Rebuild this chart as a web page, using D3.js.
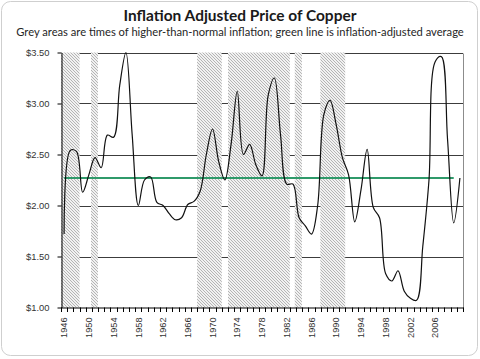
<!DOCTYPE html>
<html><head><meta charset="utf-8">
<script src="https://cdn.jsdelivr.net/npm/d3@7"></script>
<style>html,body{margin:0;padding:0;background:#fff;}svg{display:block;}</style>
</head><body>
<script>
const years = d3.range(1946, 2011);
const prices = [1.72,2.54,2.53,2.13,2.30,2.47,2.37,2.69,2.67,3.18,
  3.50,2.70,2.00,2.25,2.28,2.03,2.00,1.92,1.86,1.88,
  2.01,2.04,2.14,2.50,2.75,2.43,2.25,2.60,3.12,2.50,
  2.60,2.40,2.29,3.08,3.25,2.69,2.21,2.21,1.88,1.80,
  1.72,2.00,2.89,3.03,2.79,2.47,2.30,1.84,2.15,2.55,
  1.98,1.88,1.33,1.26,1.36,1.16,1.09,1.07,1.60,2.25,
  3.41,3.46,2.65,1.83,2.27];
const avgYears = [1946, 2009];
const avgValue = 2.27;
const inflationStart = [1946, 1950.85, 1968, 1973, 1983.8, 1987.93];
const inflationEnd   = [1949, 1951.97, 1972, 1983, 1984.95, 1991.95];
const yTicks = [1.0, 1.5, 2.0, 2.5, 3.0, 3.5];
const xLabelYears = d3.range(1946, 2010, 4);

const W = 480, H = 359;
const L = 61, R = 463, T = 52.5, B = 307.5;
const svg = d3.select("body").append("svg").attr("width", W).attr("height", H);

svg.append("rect").attr("x",1.5).attr("y",1.5).attr("width",476).attr("height",354)
  .attr("rx",9).attr("fill","#fff").attr("stroke","#cfcfcf").attr("stroke-width",1);

const defs = svg.append("defs");
const pat = defs.append("pattern").attr("id","hatch").attr("patternUnits","userSpaceOnUse")
  .attr("width",3).attr("height",3);
pat.append("rect").attr("width",3).attr("height",3).attr("fill","#f1f1f1");
pat.append("path").attr("d","M0,0 L3,3 M-1,2 L1,4 M2,-1 L4,1")
  .attr("stroke","#b4b4b4").attr("stroke-width",1);

const x = d3.scaleLinear().domain([1946, 2011]).range([L, R]);
const y = d3.scaleLinear().domain([1, 3.5]).range([B, T]);
const cx = yr => x(yr + 0.5);

function fitText(sel, target) {
  const w = sel.node().getComputedTextLength();
  const fs = parseFloat(sel.attr("font-size"));
  sel.attr("font-size", fs * target / w);
}
const title = svg.append("text").attr("x",240).attr("y",21).attr("text-anchor","middle")
  .attr("font-family","Lato, 'Open Sans', sans-serif").attr("font-weight","bold")
  .attr("font-size",15).attr("fill","#1a1a1a").text("Inflation Adjusted Price of Copper");
fitText(title, 233);
const sub = svg.append("text").attr("x",240).attr("y",35.5).attr("text-anchor","middle")
  .attr("font-family","Lato, 'Open Sans', sans-serif")
  .attr("font-size",12).attr("fill","#262626")
  .text("Grey areas are times of higher-than-normal inflation; green line is inflation-adjusted average");
fitText(sub, 448);

svg.append("g").selectAll("line").data(yTicks.filter(d => d > 1)).join("line")
  .attr("x1",L).attr("x2",R)
  .attr("y1",d => Math.round(y(d))+0.5).attr("y2",d => Math.round(y(d))+0.5)
  .attr("stroke","#3c3c3c").attr("stroke-width",1);

svg.append("line").attr("x1",R+0.5).attr("x2",R+0.5).attr("y1",Math.round(T)+0.5).attr("y2",B)
  .attr("stroke","#8c8c8c");

svg.append("g").selectAll("rect").data(inflationStart).join("rect")
  .attr("x",(d) => x(d)).attr("width",(d,i) => x(inflationEnd[i]) - x(d))
  .attr("y",T).attr("height",B - T).attr("fill","url(#hatch)");

svg.append("line").attr("x1",cx(avgYears[0])).attr("x2",cx(avgYears[1]))
  .attr("y1",y(avgValue)).attr("y2",y(avgValue))
  .attr("stroke","#2f9a6a").attr("stroke-width",2);

const line = d3.line().x((d,i) => cx(years[i])).y(d => y(d)).curve(d3.curveCatmullRom.alpha(0.5));
svg.append("path").datum(prices).attr("d",line).attr("fill","none")
  .attr("stroke","#111").attr("stroke-width",1.2);

const yAxis = d3.axisLeft(y).tickValues(yTicks).tickFormat(d3.format("$.2f")).tickSizeInner(4).tickSizeOuter(0).tickPadding(8);
const gy = svg.append("g").attr("transform",`translate(${L+0.5},0)`).call(yAxis);
gy.selectAll("text").attr("font-family","'Liberation Sans', Arial, sans-serif").attr("font-size",9.4).attr("fill","#333");
gy.select(".domain").attr("stroke","#000");
gy.selectAll(".tick line").attr("stroke","#000");

const boundaries = d3.range(1946, 2012);
const gx = svg.append("g");
gx.append("line").attr("x1",L).attr("x2",R+1).attr("y1",B+0.5).attr("y2",B+0.5).attr("stroke","#000");
gx.selectAll("line.t").data(boundaries).join("line").attr("class","t")
  .attr("x1",d => Math.round(x(d))+0.5).attr("x2",d => Math.round(x(d))+0.5)
  .attr("y1",B).attr("y2",B+4.5).attr("stroke","#000");
gx.selectAll("text").data(xLabelYears).join("text")
  .attr("transform",d => `translate(${cx(d)},${B+10}) rotate(-90)`)
  .attr("text-anchor","end").attr("dy","0.35em")
  .attr("font-family","'Liberation Sans', Arial, sans-serif").attr("font-size",9.2).attr("fill","#333")
  .text(d => d);
</script>
</body></html>
